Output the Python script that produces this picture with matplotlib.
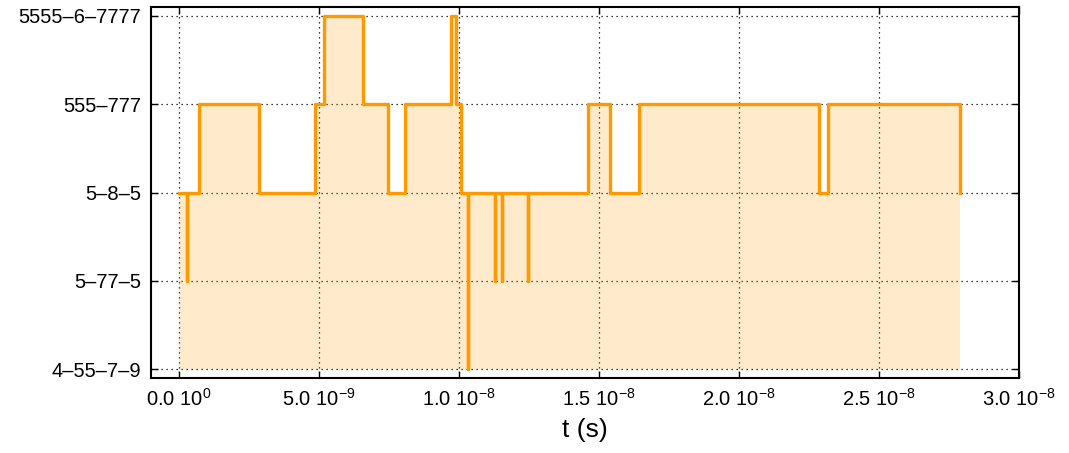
import numpy as np
import matplotlib
matplotlib.use("Agg")
import matplotlib.pyplot as plt
from matplotlib.ticker import FuncFormatter

plt.rcParams['font.family'] = ['Liberation Sans', 'DejaVu Sans']
plt.rcParams['mathtext.default'] = 'regular'

# state names (bottom to top)
states = ["4\u201355\u20137\u20139", "5\u201377\u20135", "5\u20138\u20135",
          "555\u2013777", "5555\u20136\u20137777"]

# transition times (ns) and state index entered at each time (step 'post')
t_ns = [0.0, 0.30, 0.30, 0.71, 2.85, 4.87, 5.18, 6.58, 7.48, 8.08, 9.73,
        9.90, 10.08, 10.32, 10.32, 11.30, 11.30, 11.54, 11.54, 12.46, 12.46,
        14.62, 15.39, 16.42, 22.85, 23.18, 27.89]
level = [2, 1, 2, 3, 2, 3, 4, 3, 2, 3, 4,
         3, 2, 0, 2, 1, 2, 1, 2, 1, 2,
         3, 2, 3, 2, 3, 2]

t = np.array(t_ns) * 1e-9
y = np.array(level)

fig = plt.figure(figsize=(10.69, 4.53), dpi=100)
ax = fig.add_axes([0.141, 0.165, 0.8125, 0.82])

ax.fill_between(t, y, 0, step='post', color='#FF9900', alpha=0.2,
                linewidth=0, zorder=2)
ax.step(t, y, where='post', color='#FF9900', lw=2.4, zorder=3)

ax.set_xlim(-1e-9, 3e-8)
ax.set_ylim(-0.1, 4.1)
ax.set_yticks(range(len(states)))
ax.set_yticklabels(states)
ax.set_xticks(np.arange(0, 3.01e-8, 5e-9))


def fmt(v, pos):
    if v == 0:
        return "0.0 10$^{0}$"
    e = int(np.floor(np.log10(abs(v)) + 1e-9))
    m = v / 10 ** e
    return "%.1f 10$^{%d}$" % (m, e)


ax.xaxis.set_major_formatter(FuncFormatter(fmt))
ax.grid(True, color='black', linestyle=(0, (1, 3)), linewidth=0.9, zorder=1)
ax.set_axisbelow(True)
ax.tick_params(direction='in', top=True, right=True, length=5, width=1,
               labelsize=14.5, pad=7)
for s in ax.spines.values():
    s.set_linewidth(1.5)
ax.set_xlabel("t (s)", fontsize=19, labelpad=6)

fig.savefig("out.png", dpi=100)
